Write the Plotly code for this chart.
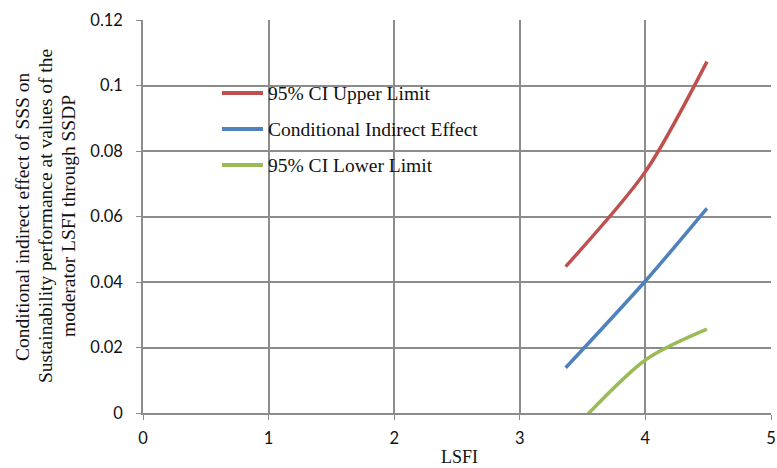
import plotly.graph_objects as go

lsfi = [3.365, 4.0, 4.49]
upper = [0.0447, 0.0737, 0.1073]
effect = [0.0138, 0.0403, 0.0625]
lower = [-0.0075, 0.0162, 0.0256]

names = ["95% CI Upper Limit", "Conditional Indirect Effect", "95% CI Lower Limit"]
colors = ["#C0504D", "#4F81BD", "#9BBB59"]
series = [upper, effect, lower]

x_ticks = [0, 1, 2, 3, 4, 5]
y_ticks = [0, 0.02, 0.04, 0.06, 0.08, 0.1, 0.12]
y_ticktext = ["0", "0.02", "0.04", "0.06", "0.08", "0.1", "0.12"]
y_title_lines = ["Conditional indirect effect of SSS on",
                 "Sustainability performance at values of the",
                 "moderator LSFI through SSDP"]
x_title = "LSFI"

fig = go.Figure()
for n, c, s in zip(names, colors, series):
    fig.add_trace(go.Scatter(
        x=lsfi, y=s, name=n, mode="lines",
        line=dict(color=c, width=3.5, shape="spline", smoothing=0.8),
        showlegend=False,
    ))

grid = "#8C8C8C"
tickfont = dict(family="Lato", size=16.5, color="#111")
serif = "Liberation Serif"

W, H = 777, 468
L, R, T, B = 143, 6, 20, 55
PW = W - L - R
PH = H - T - B

def px_x(p):
    return (p - L) / PW

def px_y(p):
    return (H - B - p) / PH

annotations = []
shapes = []
# manual legend
for k, (n, c) in enumerate(zip(names, colors)):
    yc = 93 + 36 * k
    shapes.append(dict(type="line", xref="paper", yref="paper",
                       x0=px_x(222), x1=px_x(263), y0=px_y(yc), y1=px_y(yc),
                       line=dict(color=c, width=4)))
    annotations.append(dict(text=n, xref="paper", yref="paper",
                            x=px_x(266), y=px_y(yc), xanchor="left", yanchor="middle",
                            showarrow=False,
                            font=dict(family=serif, size=19.5, color="#111")))
# y title, three rotated lines
for k, line in enumerate(y_title_lines):
    annotations.append(dict(text=line, xref="paper", yref="paper",
                            x=px_x(22 + 23 * k), y=px_y(216),
                            xanchor="center", yanchor="middle", textangle=-90,
                            showarrow=False,
                            font=dict(family=serif, size=19.5, color="#111")))
annotations.append(dict(text=x_title, xref="paper", yref="paper",
                        x=px_x(459), y=px_y(457), xanchor="center", yanchor="middle",
                        showarrow=False,
                        font=dict(family=serif, size=18, color="#111")))

fig.update_layout(
    width=W, height=H,
    margin=dict(l=L, r=R, t=T, b=B, autoexpand=False),
    paper_bgcolor="white", plot_bgcolor="white",
    showlegend=False,
    xaxis=dict(
        range=[0, 5], tickvals=x_ticks, ticktext=[str(v) for v in x_ticks],
        showgrid=True, gridcolor=grid, gridwidth=1.5,
        showline=True, linecolor=grid, linewidth=1.5,
        ticks="outside", ticklen=5, tickcolor=grid,
        tickfont=tickfont, automargin=False, ticklabelstandoff=4,
        ticklabeloverflow="allow",
        zeroline=False,
    ),
    yaxis=dict(
        range=[0, 0.12], tickvals=y_ticks, ticktext=y_ticktext,
        showgrid=True, gridcolor=grid, gridwidth=1.5,
        showline=True, linecolor=grid, linewidth=1.5,
        ticks="outside", ticklen=5, tickcolor=grid,
        tickfont=tickfont, automargin=False, ticklabelstandoff=10,
        zeroline=False,
    ),
    annotations=annotations,
    shapes=shapes,
)
fig.write_html("out.html", config={"displayModeBar": False},
               post_script="document.body.style.margin='0px';")
